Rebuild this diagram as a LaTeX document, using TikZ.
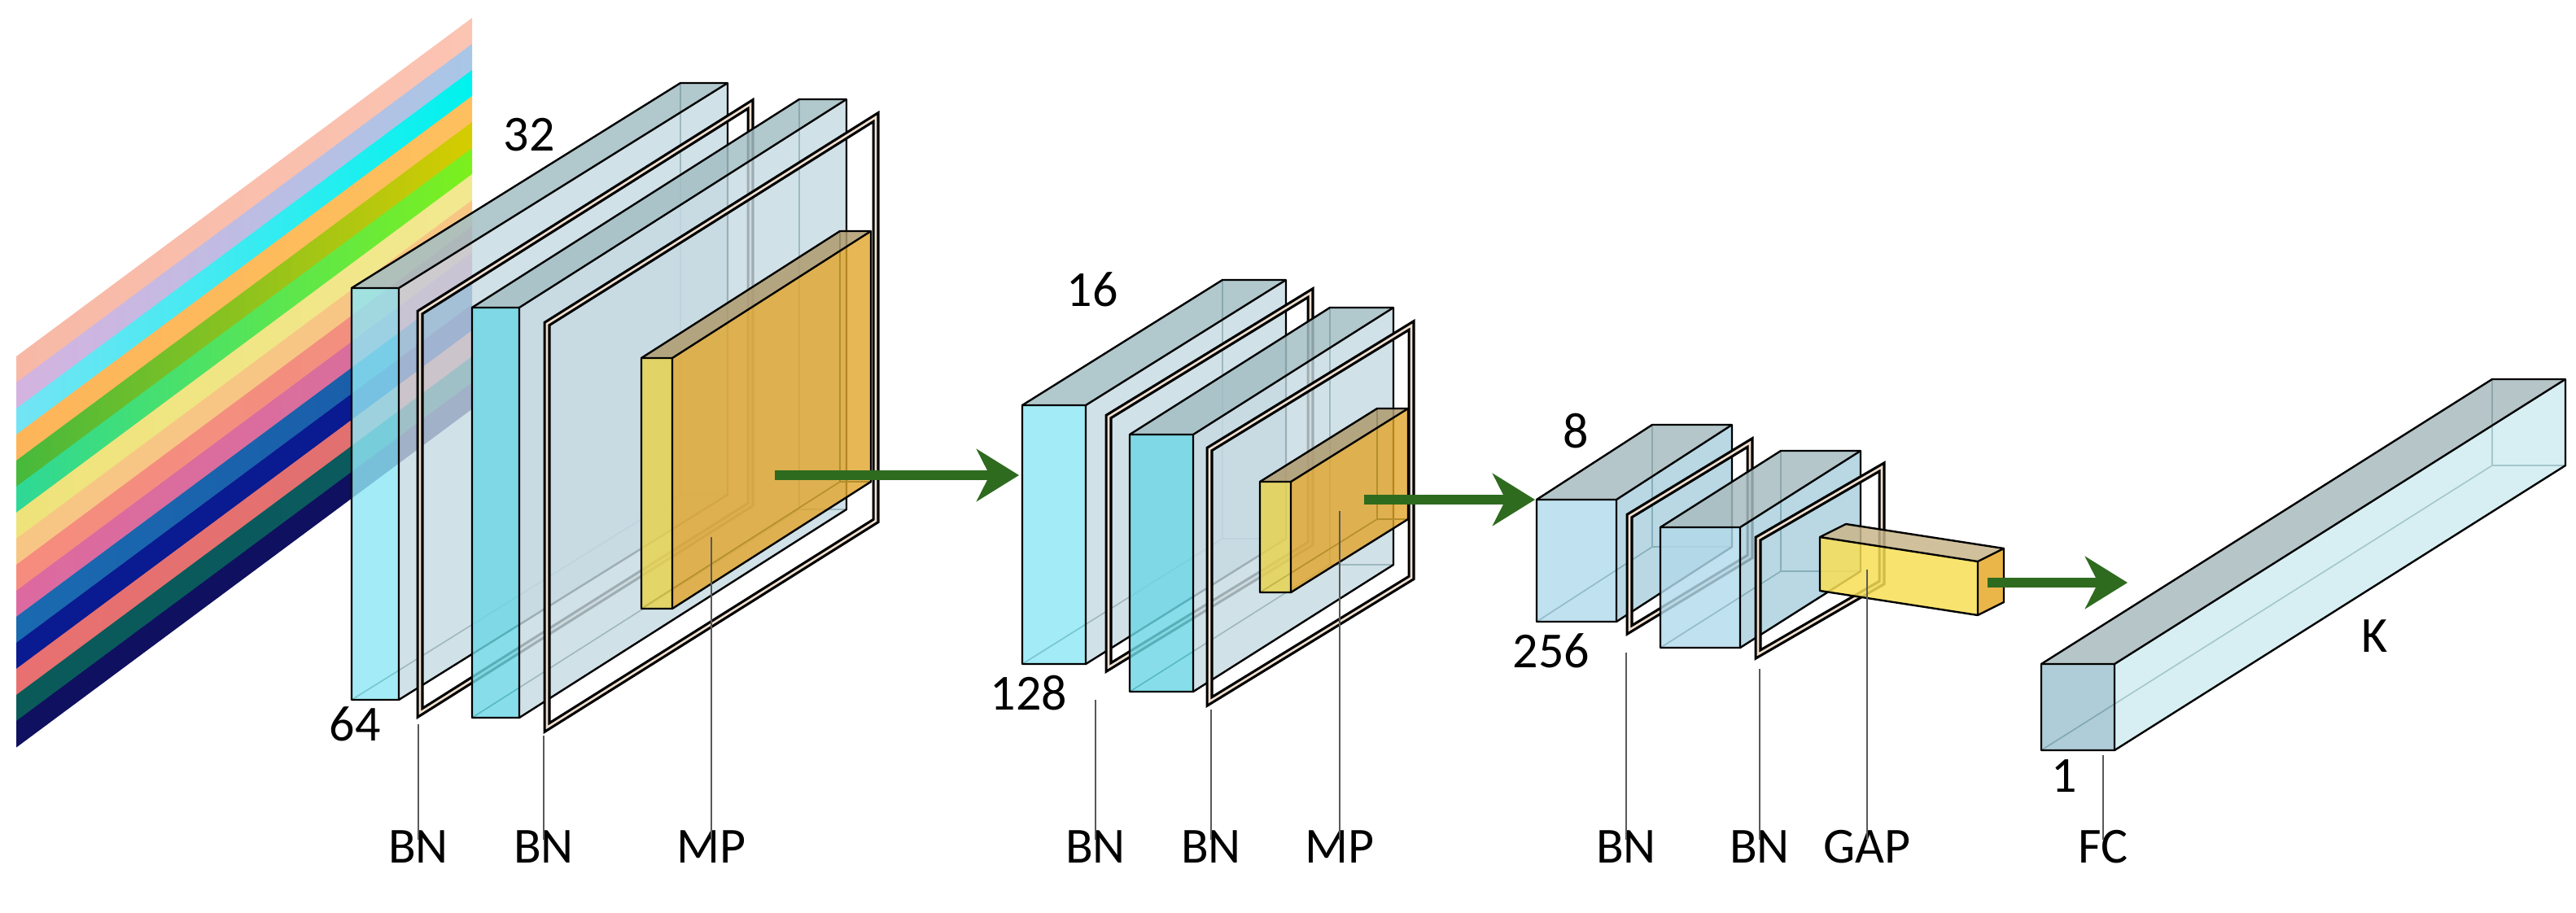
\documentclass[tikz,border=0pt]{standalone}
\usepackage{fontspec}
\setmainfont{Carlito}
\usetikzlibrary{arrows.meta}
\definecolor{arr}{HTML}{2E6B1F}
\definecolor{frA}{HTML}{8FE7F5}
\definecolor{frB}{HTML}{6CD7E5}
\definecolor{topC}{HTML}{A3BEC4}
\definecolor{sideC}{HTML}{C6DAE2}
\definecolor{frE}{HTML}{B2DAEB}
\definecolor{topE}{HTML}{A7BCC0}
\definecolor{sideE}{HTML}{A8CEDD}
\definecolor{frFC}{HTML}{9DC2CF}
\definecolor{topFC}{HTML}{A9BBBE}
\definecolor{sideFC}{HTML}{CDEBF0}
\definecolor{mpY}{HTML}{E8D24C}
\definecolor{mpO}{HTML}{E2A52A}
\definecolor{mpT}{HTML}{B09B70}
\definecolor{gY}{HTML}{F7DE55}
\definecolor{gT}{HTML}{C8B58A}
\definecolor{gO}{HTML}{E8AE35}
\tikzset{
  edge/.style={draw=black, line width=1.2pt, line join=round},
  hid/.style={draw=black!60!teal, line width=0.8pt},
  lbl/.style={font=\fontsize{31}{34}\selectfont, inner sep=0pt},
  lead/.style={draw=black!65, line width=0.9pt},
  flow/.style={draw=arr, line width=6pt, -{Stealth[length=26pt,width=32pt,inset=8pt]}},
  frameout/.style={draw=black, line width=4.5pt, line join=miter},
  framein/.style={draw=white!75!brown, line width=1.3pt, line join=miter}
}
% cuboid: x1 y1 x2 y2 dx dy front top side
\newcommand\cub[9]{%
 \def\xa{#1}\def\ya{#2}\def\xb{#3}\def\yb{#4}\def\ddx{#5}\def\ddy{#6}%
 \draw[hid] ({\xa+\ddx},{\ya+\ddy}) -- ({\xa+\ddx},{\yb+\ddy}) -- ({\xb+\ddx},{\yb+\ddy});
 \draw[hid] (\xa,\yb) -- ({\xa+\ddx},{\yb+\ddy});
 \fill[#9,fill opacity=.8] (\xb,\ya) -- ({\xb+\ddx},{\ya+\ddy}) -- ({\xb+\ddx},{\yb+\ddy}) -- (\xb,\yb) -- cycle;
 \fill[#8,fill opacity=.85] (\xa,\ya) -- ({\xa+\ddx},{\ya+\ddy}) -- ({\xb+\ddx},{\ya+\ddy}) -- (\xb,\ya) -- cycle;
 \fill[#7,fill opacity=.82] (\xa,\ya) rectangle (\xb,\yb);
 \draw[edge] (\xa,\yb) -- (\xa,\ya) -- ({\xa+\ddx},{\ya+\ddy}) -- ({\xb+\ddx},{\ya+\ddy}) -- ({\xb+\ddx},{\yb+\ddy}) -- (\xb,\yb) -- cycle;
 \draw[edge] (\xa,\ya) -- (\xb,\ya) -- (\xb,\yb) (\xb,\ya) -- ({\xb+\ddx},{\ya+\ddy});
}
% frame: x ytop ybottom dx dy
\newcommand\bnframe[5]{%
 \draw[frameout] (#1,#2) -- ({#1+#4},{#2+#5}) -- ({#1+#4},{#3+#5}) -- (#1,#3) -- cycle;
 \draw[framein] (#1,#2) -- ({#1+#4},{#2+#5}) -- ({#1+#4},{#3+#5}) -- (#1,#3) -- cycle;
}
\begin{document}
\begin{tikzpicture}[x=1pt,y=-1pt]
\useasboundingbox (0,0) rectangle (1582.5,560.5);
% input stripes
\foreach \i/\ca/\cb in {0/F7B9A6/FCC4B3,1/D4B3E0/A8C6E6,2/74E4F4/00F2EE,3/FDB55A/FEC05E,
  4/46B93C/D6CC00,5/2ED896/7CF01C,6/EEE37A/F2E890,7/F8C684/F8C684,8/F58C7E/F29080,
  9/DC6AA0/D8709A,10/1A6AB0/1A5AA8,11/0A1A90/0A1A90,12/E87070/E07070,13/0A5A5A/0A5A60,14/101060/101060}{
  \definecolor{sa}{HTML}{\ca}\definecolor{sb}{HTML}{\cb}
  \shade[left color=sa,right color=sb] (10,{219+16*\i}) -- (290,{11+16*\i}) -- (290,{27.3+16*\i}) -- (10,{235.3+16*\i}) -- cycle;
}
% block 1
\cub{216}{177}{245}{430}{202}{-126}{frA}{topC}{sideC}
\bnframe{258}{192}{438}{203}{-128}
\cub{290}{189}{319}{441}{201}{-128}{frB}{topC}{sideC}
\bnframe{336}{199}{447}{202}{-127}
\cub{394}{220}{413}{374}{122}{-78}{mpY}{mpT}{mpO}
% block 2
\cub{628}{249}{667}{408}{123}{-77}{frA}{topC}{sideC}
\bnframe{681}{256}{410}{124}{-76}
\cub{694}{267}{733}{425}{123}{-78}{frB}{topC}{sideC}
\bnframe{743}{276}{431}{124}{-76}
\cub{774}{296}{793}{364}{72}{-45}{mpY}{mpT}{mpO}
% block 3
\cub{944}{307}{993}{382}{71}{-46}{frE}{topE}{sideE}
\bnframe{1001}{317}{387}{74}{-45}
\cub{1020}{324}{1069}{398}{74}{-47}{frE}{topE}{sideE}
\bnframe{1080}{331}{402}{76}{-44}
% GAP box
\fill[gY,fill opacity=.85] (1118,330) -- (1215,345) -- (1215,378) -- (1118,363) -- cycle;
\fill[gT,fill opacity=.85] (1118,330) -- (1134,322) -- (1231,337) -- (1215,345) -- cycle;
\fill[gO,fill opacity=.9] (1215,345) -- (1231,337) -- (1231,370) -- (1215,378) -- cycle;
\draw[edge] (1118,363) -- (1118,330) -- (1134,322) -- (1231,337) -- (1231,370) -- (1215,378) -- cycle
  (1118,330) -- (1215,345) -- (1215,378) (1215,345) -- (1231,337);
% FC
\cub{1254}{408}{1299}{461}{277}{-175}{frFC}{topFC}{sideFC}
% arrows
\coordinate (a1s) at (476,292); \coordinate (a1e) at (626,292);
\coordinate (a2s) at (838,307); \coordinate (a2e) at (943,307);
\coordinate (a3s) at (1221,358); \coordinate (a3e) at (1307,358);
\draw[flow] (a1s) -- (a1e);
\draw[flow] (a2s) -- (a2e);
\draw[flow] (a3s) -- (a3e);
% dimension labels
\node[lbl] (n32) at (325,83) {32};
\node[lbl] (n64) at (218,445) {64};
\node[lbl] (n16) at (671,178) {16};
\node[lbl] (n128) at (632,426) {128};
\node[lbl] (n8) at (968,265) {8};
\node[lbl] (n256) at (953,400) {256};
\node[lbl] (nK) at (1459,391) {K};
\node[lbl] (n1) at (1268,477) {1};
% layer labels with leaders
\foreach \n/\x/\y/\t in {b1/257/445/BN,b2/334/452/BN,m1/437/330/MP,b3/673/430/BN,b4/744/436/BN,m2/823/314/MP,b5/999/401/BN,b6/1081/411/BN,g/1147/350/GAP,f/1292/464/FC}{
  \node[lbl,anchor=north] (L\n) at (\x,510) {\t};
  \coordinate (T\n) at (\x,\y);
  \draw[lead] (T\n) -- ([yshift=-6pt]L\n.north);
}
\end{tikzpicture}
\end{document}
